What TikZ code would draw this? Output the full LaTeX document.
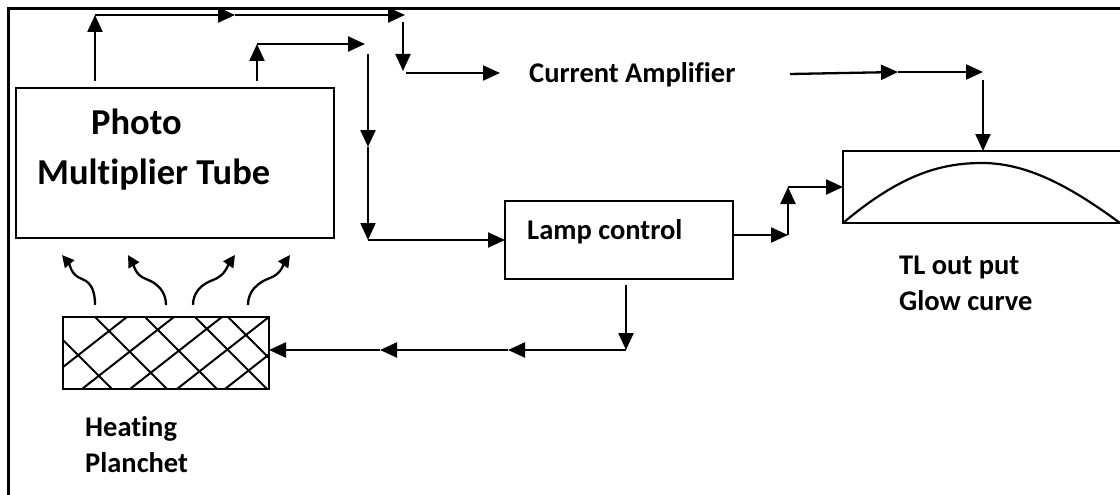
\documentclass[tikz,border=0pt]{standalone}
\usepackage{fontspec}
\setmainfont{Carlito}[Ligatures=NoCommon]
\usetikzlibrary{arrows.meta}
\begin{document}
\begin{tikzpicture}[x=1pt,y=-1pt,
  arr/.style={line width=2.3pt,-{Triangle[length=17pt,width=15pt]}},
  curl/.style={line width=2.3pt,-{Triangle[length=12pt,width=12pt]}},
  box/.style={draw,line width=1.8pt,inner sep=0pt,outer sep=0pt},
  hatch/.style={line width=2pt},
  lbl/.style={font=\fontsize{28.5}{34}\selectfont\bfseries,anchor=base west,inner sep=0pt},
  big/.style={font=\fontsize{36.5}{44}\selectfont\bfseries,anchor=base west,inner sep=0pt}]
\useasboundingbox (0,0) rectangle (1120,495);
\begin{scope}
\clip (0,0) rectangle (1120,495);
% frame
\draw[line width=3.2pt] (8.5,500) -- (8.5,8.5) -- (1130,8.5);
% boxes
\node[box,minimum width=318pt,minimum height=150pt] (pmt) at (175,163) {};
\node[box,minimum width=228pt,minimum height=78pt] (lamp) at (619,240) {};
\node[box,minimum width=290pt,minimum height=72pt,anchor=west] (glow) at (843,187) {};
\node[box,line width=2.2pt,minimum width=206pt,minimum height=72pt] (plan) at (166,353) {};
% hatch
\begin{scope}
\clip (plan.south west) rectangle (plan.north east);
\foreach \x in {40,95,145,195,228} \draw[hatch] (\x,317) -- ++(100,100);
\foreach \x in {35,82,130,177,225,272,320} \draw[hatch] (\x,389) -- ++(120,-94);
\end{scope}
\draw[line width=2.2pt] (plan.south west) rectangle (plan.north east);
% glow curve
\draw[line width=2.2pt] (glow.south west) .. controls (900,175) and (940,163) .. (982,163) .. controls (1030,163) and (1075,190) .. (1120,223);
% labels
\node[big] (t1) at (91,134) {Photo};
\node[big] (t2) at (37,184) {Multiplier Tube};
\node[lbl] (amp) at (529,83) {Current Amplifier};
\node[lbl] (lc) at (527,239) {Lamp control};
\node[lbl] (tl1) at (899,274) {TL out put};
\node[lbl] (tl2) at (899,310) {Glow curve};
\node[lbl] (hp1) at (85,436) {Heating};
\node[lbl] (hp2) at (85,472) {Planchet};
% coordinates
\coordinate (a1) at (95,81);
\coordinate (a2) at (95,15);
\coordinate (a3) at (235,15);
\coordinate (a4) at (405,15);
\coordinate (b1) at (403,22);
\coordinate (b2) at (403,71);
\coordinate (c1) at (406,73);
\coordinate (c2) at (500,73);
\coordinate (d1) at (257,81);
\coordinate (d2) at (257,44);
\coordinate (d3) at (365,44);
\coordinate (e1) at (368,54);
\coordinate (e2) at (368,147);
\coordinate (e3) at (368,240);
\coordinate (f0) at (733,235);
\coordinate (f1) at (788,235);
\coordinate (f2) at (788,187);
\coordinate (g1) at (790,74);
\coordinate (g2) at (898,72);
\coordinate (g3) at (983,72);
\coordinate (h1) at (983,80);
\coordinate (i1) at (626,285);
\coordinate (i2) at (626,350);
\coordinate (i3) at (508,350);
\coordinate (i4) at (380,350);
% arrows
\draw[arr] (a1) -- (a2);
\draw[arr] (a2) -- (a3);
\draw[arr] (a3) -- (a4);
\draw[arr] (b1) -- (b2);
\draw[arr] (c1) -- (c2);
\draw[arr] (d1) -- (d2);
\draw[arr] (d2) -- (d3);
\draw[arr] (e1) -- (e2);
\draw[arr] (e2) -- (e3);
\draw[arr] (e3) -- (lamp.west);
\draw[arr] (f0) -- (f1);
\draw[arr] (f1) -- (f2);
\draw[arr] (f2) -- (glow.west);
\draw[arr] (g1) -- (g2);
\draw[arr] (g2) -- (g3);
\draw[arr] (h1) -- (h1 |- glow.north);
\draw[arr] (i1) -- (i2);
\draw[arr] (i2) -- (i3);
\draw[arr] (i3) -- (i4);
\draw[arr] (i4) -- (i4 -| plan.east);
% heat arrows
\coordinate (k1) at (95,305);
\coordinate (k2) at (166,305);
\coordinate (k3) at (193,305);
\coordinate (k4) at (248,305);
\draw[curl] (k1) to[out=90,in=-20] (82,279) to[out=160,in=-50] (62,255);
\draw[curl] (k2) to[out=90,in=-20] (146,279) to[out=160,in=-60] (128,255);
\draw[curl] (k3) to[out=90,in=200] (213,280) to[out=20,in=235] (235,255);
\draw[curl] (k4) to[out=90,in=200] (270,278) to[out=20,in=235] (290,255);
\end{scope}
\end{tikzpicture}
\end{document}
